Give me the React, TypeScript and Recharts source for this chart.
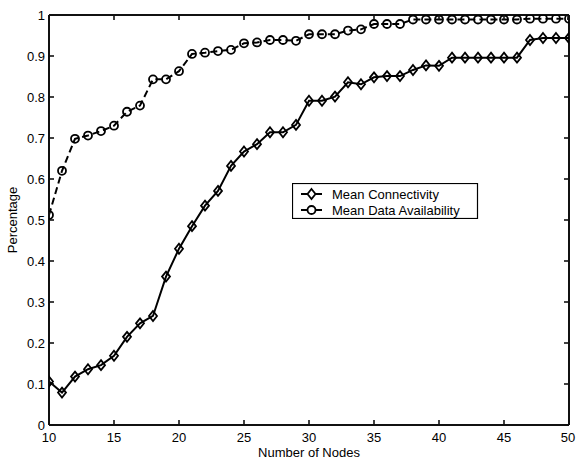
import React from 'react';
import { LineChart, Line, XAxis, YAxis, Legend, ReferenceLine } from 'recharts';

const nodes = [10, 11, 12, 13, 14, 15, 16, 17, 18, 19, 20, 21, 22, 23, 24, 25, 26, 27, 28, 29, 30, 31, 32, 33, 34, 35, 36, 37, 38, 39, 40, 41, 42, 43, 44, 45, 46, 47, 48, 49, 50];
const meanConnectivity = [0.106, 0.079, 0.118, 0.136, 0.146, 0.169, 0.215, 0.248, 0.266, 0.362, 0.430, 0.485, 0.535, 0.571, 0.632, 0.667, 0.685, 0.714, 0.714, 0.732, 0.791, 0.791, 0.801, 0.836, 0.831, 0.848, 0.851, 0.851, 0.866, 0.877, 0.876, 0.896, 0.896, 0.896, 0.896, 0.896, 0.896, 0.939, 0.944, 0.944, 0.944];
const meanAvailability = [0.512, 0.620, 0.698, 0.706, 0.717, 0.730, 0.764, 0.779, 0.843, 0.843, 0.863, 0.905, 0.908, 0.912, 0.915, 0.931, 0.933, 0.939, 0.939, 0.937, 0.953, 0.953, 0.953, 0.962, 0.965, 0.978, 0.978, 0.978, 0.989, 0.989, 0.989, 0.989, 0.989, 0.989, 0.989, 0.989, 0.989, 0.991, 0.991, 0.991, 0.991];
const xTicks = [10, 15, 20, 25, 30, 35, 40, 45, 50];
const yTicks = [0, 0.1, 0.2, 0.3, 0.4, 0.5, 0.6, 0.7, 0.8, 0.9, 1];
const seriesNames = ['Mean Connectivity', 'Mean Data Availability'];

const data = nodes.map((n, i) => ({ n, conn: meanConnectivity[i], avail: meanAvailability[i] }));

const FONT = '"Liberation Sans", Arial, Helvetica, sans-serif';

const CHART_W = 576;
const CHART_H = 459;
const MARGIN = { top: 15, right: 7, left: 0, bottom: 0 };
const Y_AXIS_W = 49;
const X_AXIS_H = 34;
const PLOT_TOP = MARGIN.top;
const PLOT_RIGHT = CHART_W - MARGIN.right;
const TICK = 5;
const FRAME_W = 2;
const TICK_W = 1.6;
const INK = '#111';

const Diamond = (props: any) => {
  const { cx, cy } = props;
  if (cx == null || cy == null) return null;
  return <path d={`M${cx},${cy - 5} L${cx + 4},${cy} L${cx},${cy + 5} L${cx - 4},${cy} Z`} fill="none" stroke="#000" strokeWidth={1.8} />;
};
const Circle = (props: any) => {
  const { cx, cy } = props;
  if (cx == null || cy == null) return null;
  return <circle cx={cx} cy={cy} r={4} fill="none" stroke="#000" strokeWidth={1.8} />;
};

const XTick = (props: any) => {
  const { x, y, payload } = props;
  return (
    <g>
      <line x1={x} x2={x} y1={PLOT_TOP} y2={PLOT_TOP + TICK} stroke={INK} strokeWidth={TICK_W} />
      <text x={x} y={y} dy="0.71em" textAnchor="middle" fontSize={13} fontFamily={FONT} fill="#000">
        {String(payload.value)}
      </text>
    </g>
  );
};

const YTick = (props: any) => {
  const { x, y, payload } = props;
  return (
    <g>
      <line x1={PLOT_RIGHT - TICK} x2={PLOT_RIGHT} y1={y} y2={y} stroke={INK} strokeWidth={TICK_W} />
      <text x={x} y={y} dy="0.355em" textAnchor="end" fontSize={13} fontFamily={FONT} fill="#000">
        {String(payload.value)}
      </text>
    </g>
  );
};

const LegendBox = () => (
  <svg width={187} height={36} style={{ display: 'block' }}>
    <rect x={0.5} y={0.5} width={185} height={35} fill="#fff" stroke="#000" strokeWidth={1.2} />
    <line x1={9} x2={30} y1={11} y2={11} stroke="#000" strokeWidth={2} />
    <path d="M19.5,6 L23.5,11 L19.5,16 L15.5,11 Z" fill="#fff" stroke="#000" strokeWidth={1.8} />
    <text x={40} y={15.5} fontSize={13} fontFamily={FONT} fill="#000">{seriesNames[0]}</text>
    <line x1={9} x2={30} y1={27} y2={27} stroke="#000" strokeWidth={2} />
    <circle cx={19.5} cy={27} r={4} fill="#fff" stroke="#000" strokeWidth={1.8} />
    <text x={40} y={31.5} fontSize={13} fontFamily={FONT} fill="#000">{seriesNames[1]}</text>
  </svg>
);

export default function App() {
  return (
    <div style={{ position: 'absolute', left: 0, top: 0, width: CHART_W, height: CHART_H, background: '#fff' }}>
      <LineChart width={CHART_W} height={CHART_H} data={data} margin={MARGIN}>
        <XAxis
          dataKey="n"
          type="number"
          domain={[10, 50]}
          ticks={xTicks}
          height={X_AXIS_H}
          tickSize={-TICK}
          tickMargin={13}
          tick={<XTick />}
          stroke={INK}
          axisLine={{ stroke: INK, strokeWidth: FRAME_W }}
          tickLine={{ stroke: INK, strokeWidth: TICK_W }}
          allowDataOverflow
          label={(p: any) => {
            const vb = p.viewBox || {};
            return (
              <text x={vb.x + vb.width / 2} y={vb.y + 32} textAnchor="middle" fontSize={13} fontFamily={FONT} fill="#000">
                Number of Nodes
              </text>
            );
          }}
        />
        <YAxis
          type="number"
          domain={[0, 1]}
          ticks={yTicks}
          width={Y_AXIS_W}
          tickSize={-TICK}
          tickMargin={9}
          tick={<YTick />}
          stroke={INK}
          axisLine={{ stroke: INK, strokeWidth: FRAME_W }}
          tickLine={{ stroke: INK, strokeWidth: TICK_W }}
          allowDataOverflow
          label={(p: any) => {
            const vb = p.viewBox || {};
            const x = vb.x + 17;
            const y = vb.y + vb.height / 2;
            return (
              <text x={x} y={y} transform={`rotate(-90, ${x}, ${y})`} textAnchor="middle" fontSize={13} fontFamily={FONT} fill="#000">
                Percentage
              </text>
            );
          }}
        />
        <ReferenceLine y={1} stroke={INK} strokeWidth={FRAME_W} ifOverflow="visible" />
        <ReferenceLine x={50} stroke={INK} strokeWidth={FRAME_W} ifOverflow="visible" />
        <Legend
          layout="vertical"
          align="center"
          verticalAlign="middle"
          content={() => <LegendBox />}
          wrapperStyle={{ left: 292, top: 183, width: 187, height: 36 }}
        />
        <Line
          name={seriesNames[0]}
          dataKey="conn"
          stroke="#000"
          strokeWidth={2}
          dot={<Diamond />}
          isAnimationActive={false}
        />
        <Line
          name={seriesNames[1]}
          dataKey="avail"
          stroke="#000"
          strokeWidth={2}
          strokeDasharray="7 4"
          dot={<Circle />}
          isAnimationActive={false}
        />
      </LineChart>
    </div>
  );
}
